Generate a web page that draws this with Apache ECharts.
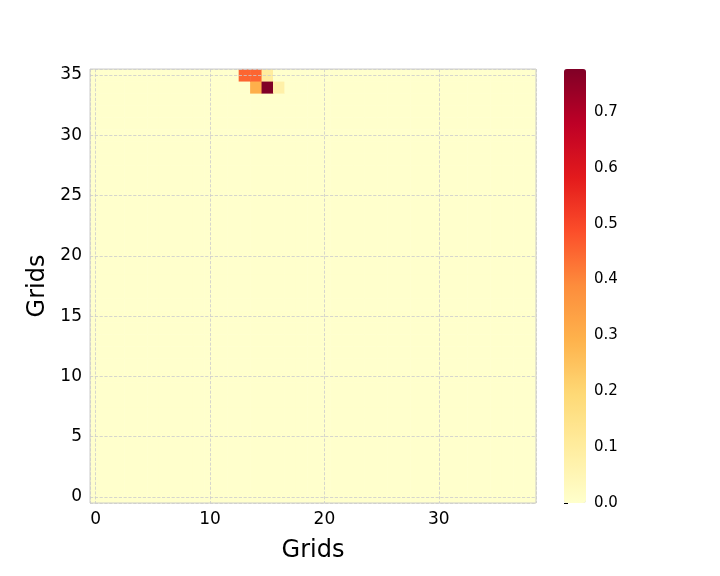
<!DOCTYPE html>
<html><head><meta charset="utf-8">
<script src="https://cdn.jsdelivr.net/npm/echarts@6/dist/echarts.min.js"></script>
<style>html,body{margin:0;background:#fff}#c{width:720px;height:576px}</style>
</head><body><div id="c"></div>
<script>
var n_cols = 39, n_rows = 36;
// non-zero cells: [col, row, value]
var hot_cols = [13, 14, 15, 14, 15, 16];
var hot_rows = [35, 35, 35, 34, 34, 34];
var hot_vals = [0.45, 0.45, 0.10, 0.30, 0.78, 0.08];
var v_max = 0.777;
var cbar_ticks = [0, 0.1, 0.2, 0.3, 0.4, 0.5, 0.6, 0.7];

var data = [];
for (var r = 0; r < n_rows; r++) for (var c = 0; c < n_cols; c++) data.push([c, r, 0]);
for (var i = 0; i < hot_vals.length; i++) data[hot_rows[i] * n_cols + hot_cols[i]][2] = hot_vals[i];

var chart = echarts.init(document.getElementById('c'));
var font = 'DejaVu Sans';
chart.setOption({
    animation: false,
    textStyle: {fontFamily: font},
    grid: [
        {left: 90, right: 184, top: 69, bottom: 73, show: true, borderColor: '#ccc', borderWidth: 1, z: 5},
        {left: 564, width: 22, top: 69, bottom: 73, show: false}
    ],
    xAxis: [
        {type: 'value', min: -0.5, max: n_cols - 0.5, splitNumber: 4, gridIndex: 0,
         name: 'Grids', nameLocation: 'middle', nameGap: 36, nameTextStyle: {fontSize: 24, color: '#000'},
         axisLine: {show: false}, axisTick: {show: false},
         axisLabel: {fontSize: 17, color: '#000', showMinLabel: false, showMaxLabel: false, margin: 8},
         splitLine: {show: true, lineStyle: {color: '#ccc', type: 'dashed', width: 0.8}}, z: 10},
        {type: 'value', gridIndex: 1, show: false}
    ],
    yAxis: [
        {type: 'value', min: -0.5, max: n_rows - 0.5, splitNumber: 7, gridIndex: 0,
         name: 'Grids', nameLocation: 'middle', nameGap: 40, nameTextStyle: {fontSize: 24, color: '#000'},
         axisLine: {show: false}, axisTick: {show: false},
         axisLabel: {fontSize: 17, color: '#000', showMinLabel: false, showMaxLabel: false, margin: 8},
         splitLine: {show: true, lineStyle: {color: '#ccc', type: 'dashed', width: 0.8}}, z: 10},
        {type: 'value', gridIndex: 1, position: 'right', min: 0, max: v_max, interval: 0.1,
         axisLine: {show: false}, axisTick: {show: true, length: 4, lineStyle: {color: '#000'}},
         axisLabel: {fontSize: 15, color: '#000', showMaxLabel: false, formatter: function (v) { return v.toFixed(1); }},
         splitLine: {show: false}}
    ],
    visualMap: {
        type: 'continuous', min: 0, max: v_max, seriesIndex: 0, calculable: false,
        left: 564, top: 69, itemWidth: 22, itemHeight: 434, padding: 0, text: ['', ''], showLabel: false,
        inRange: {color: ['#ffffcc','#ffeda0','#fed976','#feb24c','#fd8d3c','#fc4e2a','#e31a1c','#bd0026','#800026']}
    },
    series: [{
        type: 'custom', xAxisIndex: 0, yAxisIndex: 0, data: data, z: 2,
        renderItem: function (params, api) {
            var p = api.coord([api.value(0) - 0.5, api.value(1) + 0.5]);
            var q = api.coord([api.value(0) + 0.5, api.value(1) - 0.5]);
            return {type: 'rect', shape: {x: p[0], y: p[1], width: q[0] - p[0] + 0.5, height: q[1] - p[1] + 0.5},
                    style: {fill: api.visual('color')}};
        }
    }]
});
</script></body></html>
